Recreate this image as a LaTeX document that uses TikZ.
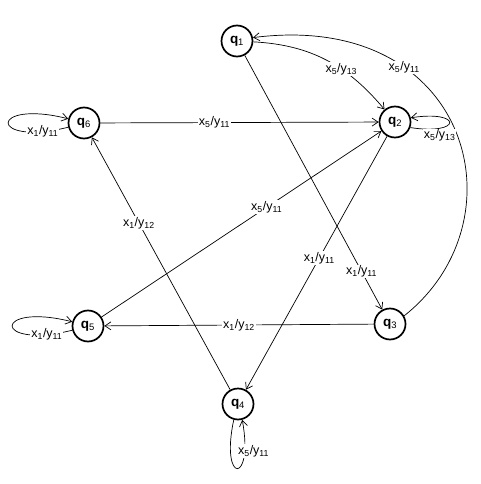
\documentclass[tikz,border=0pt]{standalone}
\usepackage{fontspec}
\setmainfont{Liberation Sans}
\usetikzlibrary{arrows.meta}

\newcommand{\xy}[2]{x\textsubscript{#1}/y\textsubscript{#2}}

\begin{document}
\begin{tikzpicture}[x=1pt, y=-1pt, line width=0.7pt,
    state/.style={circle, draw, line width=1.7pt, minimum size=31pt, inner sep=0pt, font=\fontsize{13.5}{15}\selectfont},
    lbl/.style={fill=white, inner sep=1pt, font=\fontsize{12.5}{14}\selectfont},
    >={Straight Barb[length=6pt, width=8pt]}]
    \useasboundingbox (0,0) rectangle (481,484);
    % States
    \foreach \n/\x/\y in {1/237/41, 2/395/122, 3/390/324, 4/238/404, 5/88/326, 6/84/123}
        \node[state] (q\n) at (\x,\y) {\textbf{q}\textsubscript{\n}};

    % Transitions
    \draw[->] (q6) -- node[lbl, pos=0.41] {\xy{5}{11}} (q2);
    \draw[->] (q5) -- node[lbl, pos=0.59] {\xy{5}{11}} (q2);
    \draw[->] (q4) -- node[lbl, pos=0.66] {\xy{1}{12}} (q6);
    \draw[->] (q3) -- node[lbl, pos=0.5] {\xy{1}{12}} (q5);
    \draw[->] (q1) -- node[lbl, pos=0.85] {\xy{1}{11}} (q3);
    \draw[->] (q2) -- node[lbl, pos=0.48] {\xy{1}{11}} (q4);
    \draw[->] (q1) to[out=-3, in=130] node[lbl, pos=0.62] {\xy{5}{13}} (q2);
    \draw[->] (q3.30) .. controls (525,220) and (470,10) .. node[lbl, pos=0.7] {\xy{5}{11}} (q1.12);

    % Self loops
    \draw[->] (q6.195) .. controls +(-80,20) and +(-80,-20) .. node[lbl, pos=0.12] {\xy{1}{11}} (q6.165);
    \draw[->] (q5.195) .. controls +(-80,20) and +(-80,-20) .. node[lbl, pos=0.12] {\xy{1}{11}} (q5.165);
    \draw[->] (q2.-20) .. controls +(52,8) and +(52,-8) .. node[lbl, below, pos=0.25] {\xy{5}{13}} (q2.15);
    \draw[->] (q4.255) .. controls +(-14,65) and +(12,65) .. node[lbl, pos=0.8, xshift=9pt] {\xy{5}{11}} (q4.285);
\end{tikzpicture}
\end{document}
